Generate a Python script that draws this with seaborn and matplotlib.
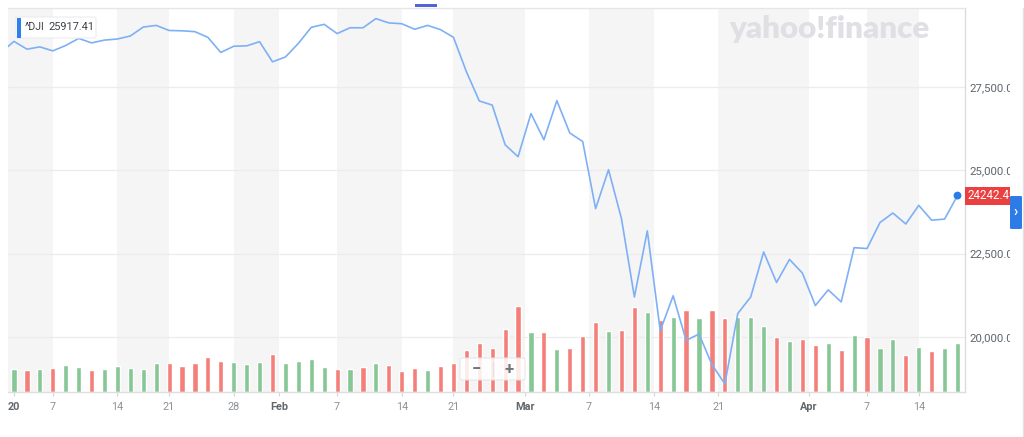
import numpy as np
import pandas as pd
import matplotlib
matplotlib.use("Agg")
import matplotlib.pyplot as plt
import matplotlib.transforms as mtransforms
from matplotlib.patches import FancyBboxPatch, Rectangle
from matplotlib.lines import Line2D
import seaborn as sns

# ---------------- data ----------------
dates = ["2019-12-31",
         "2020-01-02", "2020-01-03", "2020-01-06", "2020-01-07", "2020-01-08", "2020-01-09", "2020-01-10",
         "2020-01-13", "2020-01-14", "2020-01-15", "2020-01-16", "2020-01-17", "2020-01-21", "2020-01-22",
         "2020-01-23", "2020-01-24", "2020-01-27", "2020-01-28", "2020-01-29", "2020-01-30", "2020-01-31",
         "2020-02-03", "2020-02-04", "2020-02-05", "2020-02-06", "2020-02-07", "2020-02-10", "2020-02-11",
         "2020-02-12", "2020-02-13", "2020-02-14", "2020-02-18", "2020-02-19", "2020-02-20", "2020-02-21",
         "2020-02-24", "2020-02-25", "2020-02-26", "2020-02-27", "2020-02-28",
         "2020-03-02", "2020-03-03", "2020-03-04", "2020-03-05", "2020-03-06", "2020-03-09", "2020-03-10",
         "2020-03-11", "2020-03-12", "2020-03-13", "2020-03-16", "2020-03-17", "2020-03-18", "2020-03-19",
         "2020-03-20", "2020-03-23", "2020-03-24", "2020-03-25", "2020-03-26", "2020-03-27", "2020-03-30",
         "2020-03-31",
         "2020-04-01", "2020-04-02", "2020-04-03", "2020-04-06", "2020-04-07", "2020-04-08", "2020-04-09",
         "2020-04-13", "2020-04-14", "2020-04-15", "2020-04-16", "2020-04-17"]

closes = [28538.44,
          28868.80, 28634.88, 28703.38, 28583.68, 28745.09, 28956.90, 28823.77, 28907.05, 28939.67,
          29030.22, 29297.64, 29348.10, 29196.04, 29186.27, 29160.09, 28989.73, 28535.80, 28722.85,
          28734.45, 28859.44, 28256.03,
          28399.81, 28807.63, 29290.85, 29379.77, 29102.51, 29276.82, 29276.34, 29551.42, 29423.31,
          29398.08, 29232.19, 29348.03, 29219.98, 28992.41, 27960.80, 27081.36, 26957.59, 25766.64,
          25409.36,
          26703.32, 25917.41, 27090.86, 26121.28, 25864.78, 23851.02, 25018.16, 23553.22, 21200.62,
          23185.62, 20188.52, 21237.38, 19898.92, 20087.19, 19173.98, 18591.93, 20704.91, 21200.55,
          22552.17, 21636.78, 22327.48, 21917.16,
          20943.51, 21413.44, 21052.53, 22679.99, 22653.86, 23433.57, 23719.37, 23390.77, 23949.76,
          23504.35, 23537.68, 24242.49]

# volume (millions of shares), one per trading day from 2020-01-02
volumes = [227, 220, 227, 237, 270, 253, 220, 227, 260, 237, 227, 293, 293, 260, 287, 353, 313,
           303, 277, 303, 377,
           287, 310, 327, 247, 227, 227, 253, 287, 270, 213, 237, 220, 260, 287, 420, 487, 443,
           627, 863,
           597, 603, 427, 443, 563, 703, 613, 623, 853, 797, 720, 747, 820, 737, 820, 737, 753,
           747, 663, 547, 507, 530,
           473, 490, 417, 573, 553, 440, 530, 367, 447, 410, 440, 490]

tick_positions = [0, 3, 8, 12, 17, 20.5, 25, 30, 34, 39.5, 44.5, 49.5, 54.5, 61.5, 66, 70]
tick_labels = ["20", "7", "14", "21", "28", "Feb", "7", "14", "21", "Mar", "7", "14", "21", "Apr", "7", "14"]
bold_labels = ["20", "Feb", "Mar", "Apr"]
price_ticks = [20000, 22500, 25000, 27500]
symbol = "^DJI"
hover_value = 25917.41

# ---------------- frames ----------------
price_df = pd.DataFrame({"idx": np.arange(len(closes)) - 1, "close": closes, "date": dates})
vol_df = pd.DataFrame({"idx": np.arange(len(volumes)), "volume": volumes})
vol_df["dir"] = np.where(np.diff(closes) >= 0, "up", "down")

W, H = 1024, 437
sns.set_theme(style="white")
plt.rcParams["font.family"] = ["Roboto", "DejaVu Sans"]

fig = plt.figure(figsize=(W / 100, H / 100), dpi=100)
fig.patch.set_facecolor("white")

def fx(x):
    return x / W

def fy(y):
    return 1 - y / H

ax_v = fig.add_axes([fx(8), fy(392), (965 - 8) / W, (392 - 8) / H])
ax_v.set_facecolor("white")

xmin, xmax = -0.464, 73.58
pmin, pmax = 18350, 29870

# weekly alternating bands
edges = [xmin] + tick_positions[1:] + [xmax]
for i in range(len(edges) - 1):
    if i % 2 == 0:
        ax_v.axvspan(edges[i], edges[i + 1], color="#f5f5f5", lw=0, zorder=0)

ax_p = ax_v.twinx()

# horizontal gridlines (price levels) drawn behind bars
blend = mtransforms.blended_transform_factory(ax_v.transAxes, ax_p.transData)
for p in price_ticks:
    ax_v.add_line(Line2D([0, 1], [p, p], transform=blend, color="#ececec", lw=0.9, zorder=0.5))

# volume bars
sns.barplot(data=vol_df, x="idx", y="volume", hue="dir",
            palette={"up": "#86c795", "down": "#f47f7a"},
            dodge=False, native_scale=True, width=0.4, errorbar=None,
            legend=False, ax=ax_v, saturation=1, zorder=2)
ax_v.set_ylim(0, 3840)
ax_v.set_xlim(xmin, xmax)
ax_v.set_yticks([])
ax_v.set_ylabel("")
ax_v.set_xlabel("")

# price line
sns.lineplot(data=price_df, x="idx", y="close", ax=ax_p, color="#7eb0f6", lw=1.2, zorder=3)
last = price_df.iloc[[-1]]
sns.scatterplot(data=last, x="idx", y="close", ax=ax_p, color="#2a7de8", s=32,
                edgecolor="none", zorder=4, legend=False)
ax_p.set_ylim(pmin, pmax)
ax_p.set_xlim(xmin, xmax)
ax_p.set_ylabel("")
ax_p.set_xlabel("")
ax_p.set_yticks(price_ticks)
ax_p.set_yticklabels([f"{p:,.2f}" for p in price_ticks])
ax_p.tick_params(axis="y", length=0, pad=3.5, labelsize=8.2, labelcolor="#5d646b")

# x ticks
ax_v.set_xticks(tick_positions)
ax_v.set_xticklabels(tick_labels)
ax_v.tick_params(axis="x", length=3, width=0.8, color="#d6d6d6", pad=4.5,
                 labelsize=7.8, labelcolor="#8d9297", bottom=True)
for lab in ax_v.get_xticklabels():
    if lab.get_text() in bold_labels:
        lab.set_fontweight("bold")
        lab.set_color("#60666c")

for sp in ["left", "right", "top"]:
    ax_v.spines[sp].set_visible(False)
ax_v.spines["bottom"].set_color("#dedede")
ax_v.spines["bottom"].set_linewidth(1)
for sp in ["left", "bottom"]:
    ax_p.spines[sp].set_visible(False)
ax_p.spines["right"].set_color("#dcdcdc")
ax_p.spines["top"].set_color("#e6e6e6")
ax_p.spines["right"].set_linewidth(1)
ax_p.spines["top"].set_linewidth(1)

# last price tag
last_close = closes[-1]
tag_tr = mtransforms.blended_transform_factory(ax_p.transAxes, ax_p.transData)
ax_p.text(1 + 3.0 / 957, last_close, f"{last_close:.2f}", transform=tag_tr,
          ha="left", va="center", color="white", fontsize=8.4, zorder=6,
          bbox=dict(boxstyle="square,pad=0.22", fc="#ea4040", ec="none"))

# right white strip + blue tab
fig.patches.append(Rectangle((fx(1010), 0), (W - 1010) / W, 1, transform=fig.transFigure,
                             fc="white", ec="none", zorder=20))
fig.lines.append(Line2D([fx(1022.5), fx(1022.5)], [0, fy(8)], transform=fig.transFigure,
                        color="#e2e2e2", lw=1, zorder=21))
fig.patches.append(FancyBboxPatch((fx(1010), fy(229)), 12 / W, 33 / H,
                                  boxstyle="round,pad=0,rounding_size=0.002",
                                  transform=fig.transFigure, fc="#2d7be6", ec="none", zorder=22))
fig.text(fx(1016), fy(212), "›", color="white", fontsize=10, ha="center", va="center",
         zorder=23, fontweight="bold")

# header accent
fig.patches.append(Rectangle((fx(415), fy(7)), 22 / W, 3 / H, transform=fig.transFigure,
                             fc="#5264d2", ec="none", zorder=20))

# legend chip
fig.patches.append(FancyBboxPatch((fx(16), fy(38)), 80 / W, 21 / H,
                                  boxstyle="round,pad=0,rounding_size=0.003",
                                  transform=fig.transFigure, fc="white", ec="#ececec",
                                  lw=0.8, zorder=20))
fig.patches.append(Rectangle((fx(16.5), fy(37.5)), 4 / W, 20 / H, transform=fig.transFigure,
                             fc="#2f7fec", ec="none", zorder=21))
fig.text(fx(25), fy(27.5), symbol, fontsize=7.6, color="#3d4247", ha="left", va="center", zorder=22)
fig.text(fx(48), fy(27.5), f"{hover_value:.2f}", fontsize=7.9, color="#3d4247", ha="left",
         va="center", zorder=22)

# watermark
fig.text(fx(729), fy(38), "yahoo!finance", fontsize=22.5, fontweight="heavy", color="#dfdfe4",
         ha="left", va="baseline", family=["Lato", "DejaVu Sans"], zorder=1)

# zoom buttons
fig.patches.append(FancyBboxPatch((fx(460), fy(380)), 65 / W, 22 / H,
                                  boxstyle="round,pad=0,rounding_size=0.003",
                                  transform=fig.transFigure, fc="white", ec="#e4e4e4",
                                  lw=0.8, alpha=0.85, zorder=20))
fig.lines.append(Line2D([fx(492.5), fx(492.5)], [fy(376), fy(362)], transform=fig.transFigure,
                        color="#e2e2e2", lw=0.8, zorder=21))
fig.text(fx(476), fy(369.5), "−", fontsize=12, fontweight="bold", color="#70757a",
         ha="center", va="center", zorder=22)
fig.text(fx(509), fy(369.5), "+", fontsize=12, fontweight="bold", color="#70757a",
         ha="center", va="center", zorder=22)

fig.savefig("out.png", dpi=100)
